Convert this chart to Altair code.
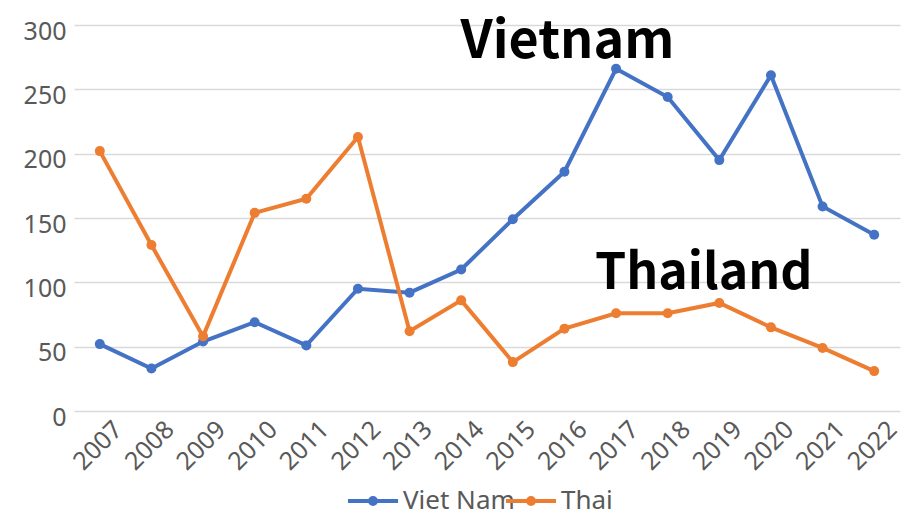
import altair as alt
import pandas as pd

years = [str(y) for y in range(2007, 2023)]
vietnam = [52, 33, 54, 69, 51, 95, 92, 110, 149, 186, 266, 244, 195, 261, 159, 137]
thai = [202, 129, 58, 154, 165, 213, 62, 86, 38, 64, 76, 76, 84, 65, 49, 31]
series_names = ["Viet Nam", "Thai"]
series_colors = ["#4472C4", "#ED7D31"]

ann_labels = ["Vietnam", "Thailand"]
ann_years = ["2016", "2018"]
ann_values = [274, 95]

rows = []
for name, vals in zip(series_names, [vietnam, thai]):
    for y, v in zip(years, vals):
        rows.append({"year": y, "value": v, "series": name})
df = pd.DataFrame(rows)
ann = pd.DataFrame({"label": ann_labels, "year": ann_years, "value": ann_values})

FONT = "Noto Sans"
r = 14.0
k = 25.0 / r
c = 3.0 / r
sym_path = f"M{-k:.3f},0H{k:.3f}M{-c:.3f},0a{c:.3f},{c:.3f} 0 1,0 {2*c:.3f},0a{c:.3f},{c:.3f} 0 1,0 {-2*c:.3f},0"

x_enc = alt.X("year:O", sort=years, scale=alt.Scale(type="point", padding=0.5, domain=years),
              axis=alt.Axis(title=None, labelAngle=-45, labelAlign="right", labelBaseline="middle",
                            labelOffset=18, labelPadding=14, ticks=False, domain=False, grid=False,
                            labelFontSize=25, labelColor="#595959", labelFont=FONT))
y_enc = alt.Y("value:Q", scale=alt.Scale(domain=[0, 300], nice=False, zero=True),
              axis=alt.Axis(title=None, values=[0, 50, 100, 150, 200, 250, 300], ticks=False,
                            domain=False, grid=True, gridColor="#d9d9d9", gridWidth=1.5,
                            labelFontSize=25, labelColor="#595959", labelFont=FONT,
                            labelPadding=8, labelOffset=6))
color_enc = alt.Color("series:N", sort=series_names,
                      scale=alt.Scale(domain=series_names, range=series_colors),
                      legend=alt.Legend(title=None, orient="none", legendX=283, legendY=460,
                                        direction="horizontal", symbolType=sym_path, symbolSize=r * r * 4,
                                        symbolStrokeWidth=4, labelFontSize=26, labelColor="#595959",
                                        labelFont=FONT, labelOffset=14, columnPadding=-34))

base = alt.Chart(df)
lines = base.mark_line(strokeWidth=4).encode(x=x_enc, y=y_enc, color=color_enc,
                                             order=alt.Order("year:O"))
points = base.mark_point(filled=True, size=100, opacity=1).encode(x=x_enc, y=y_enc, color=color_enc)

t1 = alt.Chart(ann[ann.label == "Vietnam"]).mark_text(fontSize=52, fontWeight="bold", font="Noto Sans CJK JP",
                                 color="black", align="center", baseline="alphabetic", dx=3).encode(
    x=alt.X("year:O", sort=years), y=alt.Y("value:Q"), text="label:N")
t2 = alt.Chart(ann[ann.label == "Thailand"]).mark_text(fontSize=50, fontWeight="bold", font="Noto Sans CJK JP",
                                 color="black", align="center", baseline="alphabetic", dx=36).encode(
    x=alt.X("year:O", sort=years), y=alt.Y("value:Q"), text="label:N")

chart = alt.layer(lines, points, t1, t2).properties(
    width=826, height=386, autosize="none",
    padding={"left": 66, "top": 17, "right": 3, "bottom": 100},
    background="white",
).configure_view(stroke=None)

chart.save("out.html", embed_options={"renderer": "svg", "actions": False})
